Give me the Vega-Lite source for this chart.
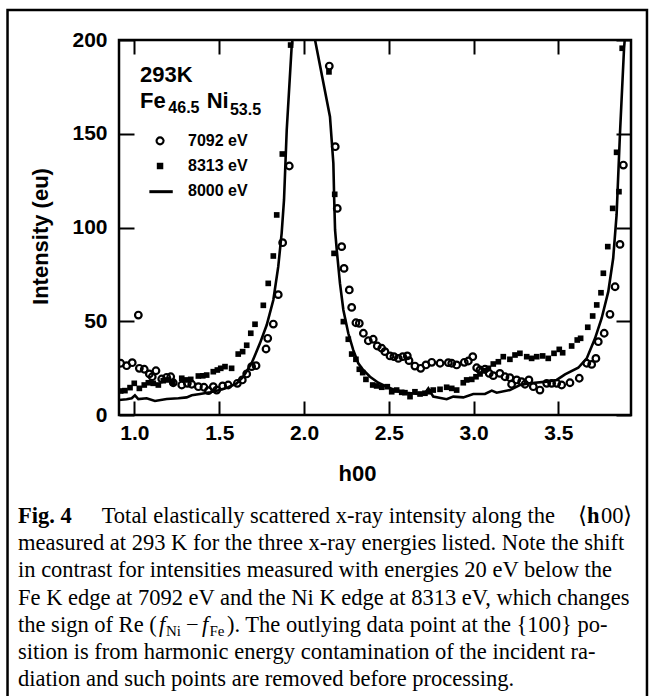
{
  "$schema": "https://vega.github.io/schema/vega-lite/v6.json",
  "width": 512,
  "height": 375,
  "autosize": {"type": "none"},
  "padding": {"left": 119, "top": 40, "right": 20, "bottom": 281},
  "background": "white",
  "config": {
    "view": {"stroke": "black", "strokeWidth": 2.5},
    "font": "Liberation Sans",
    "axis": {
      "grid": false, "domain": false, "tickColor": "black", "tickWidth": 2,
      "labelColor": "black", "labelFont": "Liberation Sans", "labelFontWeight": "bold", "labelFontSize": 21,
      "titleFont": "Liberation Sans", "titleFontWeight": "bold", "titleFontSize": 22, "titleColor": "black"
    }
  },
  "datasets": {
    "circles": [
      {"h":0.919,"I":27.6},{"h":0.954,"I":26.3},{"h":0.987,"I":27.9},{"h":1.023,"I":53.3},{"h":1.029,"I":24.9},{"h":1.058,"I":24.4},{"h":1.088,"I":21.9},{"h":1.105,"I":20.4},{"h":1.127,"I":23.6},{"h":1.161,"I":19.2},{"h":1.19,"I":20.1},{"h":1.214,"I":20.4},{"h":1.229,"I":17.2},{"h":1.279,"I":16},{"h":1.312,"I":16.9},{"h":1.338,"I":16.4},{"h":1.377,"I":15.1},{"h":1.41,"I":14.8},{"h":1.436,"I":13},{"h":1.465,"I":15.1},{"h":1.485,"I":13.3},{"h":1.52,"I":15.5},{"h":1.553,"I":16},{"h":1.607,"I":16.9},{"h":1.636,"I":18.7},{"h":1.662,"I":21.9},{"h":1.691,"I":25.8},{"h":1.717,"I":26.3},{"h":1.776,"I":35.2},{"h":1.786,"I":40.9},{"h":1.819,"I":48.5},{"h":1.848,"I":64.2},{"h":1.874,"I":91.9},{"h":1.913,"I":132.8},
      {"h":2.149,"I":186.1},{"h":2.184,"I":143.1},{"h":2.196,"I":110.2},{"h":2.222,"I":89.8},{"h":2.236,"I":78.2},{"h":2.267,"I":66.7},{"h":2.281,"I":57.4},{"h":2.306,"I":49.2},{"h":2.326,"I":48.9},{"h":2.35,"I":43.6},{"h":2.379,"I":39.6},{"h":2.408,"I":40.4},{"h":2.432,"I":36.8},{"h":2.458,"I":35.6},{"h":2.477,"I":33.8},{"h":2.507,"I":31.5},{"h":2.53,"I":31.1},{"h":2.556,"I":30.2},{"h":2.582,"I":31.1},{"h":2.609,"I":31.5},{"h":2.619,"I":29},{"h":2.654,"I":26.1},{"h":2.688,"I":24.9},{"h":2.719,"I":26.7},{"h":2.753,"I":28.1},{"h":2.802,"I":27.6},{"h":2.851,"I":27.9},{"h":2.871,"I":27.6},{"h":2.9,"I":26.7},{"h":2.945,"I":28.1},{"h":2.969,"I":28.8},{"h":2.995,"I":31.1},{"h":3.018,"I":25.2},{"h":3.037,"I":24},{"h":3.067,"I":24.4},{"h":3.092,"I":22.2},{"h":3.116,"I":21},{"h":3.155,"I":22.2},{"h":3.185,"I":20.4},{"h":3.214,"I":19.9},{"h":3.224,"I":16.4},{"h":3.254,"I":18.7},{"h":3.283,"I":17.8},{"h":3.303,"I":16.4},{"h":3.326,"I":18.7},{"h":3.352,"I":15.1},{"h":3.391,"I":13.3},{"h":3.431,"I":16.9},{"h":3.46,"I":16.9},{"h":3.49,"I":16.9},{"h":3.519,"I":16},{"h":3.568,"I":17.2},{"h":3.623,"I":19.6},{"h":3.667,"I":27.6},{"h":3.696,"I":27},{"h":3.721,"I":30.2},{"h":3.735,"I":39.1},{"h":3.77,"I":43.6},{"h":3.804,"I":53.7},{"h":3.834,"I":68.4},{"h":3.863,"I":91},{"h":3.883,"I":133.3}
    ],
    "squares": [
      {"h":0.919,"I":12.8},{"h":0.944,"I":13},{"h":0.974,"I":14.6},{"h":0.999,"I":16.9},{"h":1.029,"I":14.2},{"h":1.058,"I":16},{"h":1.082,"I":17.2},{"h":1.111,"I":16.9},{"h":1.141,"I":16},{"h":1.17,"I":18.3},{"h":1.2,"I":18.7},{"h":1.226,"I":17.2},{"h":1.279,"I":19.6},{"h":1.304,"I":18.7},{"h":1.332,"I":19},{"h":1.377,"I":20.8},{"h":1.403,"I":20.9},{"h":1.426,"I":21.3},{"h":1.465,"I":23.1},{"h":1.489,"I":24},{"h":1.509,"I":24.9},{"h":1.534,"I":25.8},{"h":1.573,"I":24.9},{"h":1.612,"I":32.5},{"h":1.638,"I":33.8},{"h":1.662,"I":37.2},{"h":1.686,"I":43.6},{"h":1.711,"I":48.4},{"h":1.76,"I":58.5},{"h":1.789,"I":70.2},{"h":1.819,"I":84.8},{"h":1.839,"I":106.7},{"h":1.872,"I":139.2},{"h":1.921,"I":197.3},
      {"h":2.147,"I":183},{"h":2.181,"I":117.7},{"h":2.177,"I":86.2},{"h":2.232,"I":49.8},{"h":2.261,"I":40.4},{"h":2.281,"I":32.5},{"h":2.306,"I":29.7},{"h":2.326,"I":24.4},{"h":2.346,"I":22.6},{"h":2.365,"I":19},{"h":2.405,"I":16},{"h":2.428,"I":15.5},{"h":2.458,"I":14.8},{"h":2.491,"I":15.1},{"h":2.517,"I":12.4},{"h":2.546,"I":13.3},{"h":2.576,"I":12.1},{"h":2.595,"I":11.9},{"h":2.625,"I":9.8},{"h":2.654,"I":12.4},{"h":2.684,"I":11.2},{"h":2.713,"I":11.6},{"h":2.737,"I":12.4},{"h":2.762,"I":13.3},{"h":2.802,"I":13.7},{"h":2.841,"I":14.8},{"h":2.871,"I":14.2},{"h":2.9,"I":13.3},{"h":2.939,"I":17.2},{"h":2.959,"I":18.7},{"h":2.989,"I":19},{"h":3.014,"I":20.4},{"h":3.038,"I":21.9},{"h":3.061,"I":23.6},{"h":3.087,"I":24.9},{"h":3.116,"I":27.2},{"h":3.146,"I":28.4},{"h":3.175,"I":31.1},{"h":3.214,"I":29.7},{"h":3.244,"I":32},{"h":3.273,"I":32.9},{"h":3.313,"I":31.1},{"h":3.342,"I":30.2},{"h":3.372,"I":31.1},{"h":3.407,"I":31.5},{"h":3.44,"I":30.2},{"h":3.474,"I":32.9},{"h":3.505,"I":35},{"h":3.525,"I":33.2},{"h":3.578,"I":36.8},{"h":3.611,"I":40},{"h":3.631,"I":40.9},{"h":3.673,"I":46.8},{"h":3.702,"I":52.8},{"h":3.726,"I":58.7},{"h":3.751,"I":65.2},{"h":3.765,"I":75.6},{"h":3.791,"I":89.8},{"h":3.82,"I":110.2},{"h":3.843,"I":140.1},{"h":3.857,"I":119.1},{"h":3.876,"I":195.6}
    ],
    "line8000": [
      {"seg":"a","h":0.905,"I":8},{"seg":"a","h":0.954,"I":8.4},{"seg":"a","h":0.984,"I":8.9},{"seg":"a","h":1.003,"I":10.5},{"seg":"a","h":1.023,"I":8.5},{"seg":"a","h":1.072,"I":8.9},{"seg":"a","h":1.121,"I":7.5},{"seg":"a","h":1.19,"I":8.5},{"seg":"a","h":1.259,"I":8.9},{"seg":"a","h":1.308,"I":9.4},{"seg":"a","h":1.338,"I":10.5},{"seg":"a","h":1.387,"I":11.2},{"seg":"a","h":1.446,"I":12.1},{"seg":"a","h":1.504,"I":13.3},{"seg":"a","h":1.553,"I":14.8},{"seg":"a","h":1.603,"I":16.9},{"seg":"a","h":1.642,"I":20.4},{"seg":"a","h":1.691,"I":27.6},{"seg":"a","h":1.74,"I":38.2},{"seg":"a","h":1.78,"I":48},{"seg":"a","h":1.819,"I":61.3},{"seg":"a","h":1.848,"I":79.1},{"seg":"a","h":1.868,"I":96.9},{"seg":"a","h":1.882,"I":114.7},{"seg":"a","h":1.898,"I":152},{"seg":"a","h":1.927,"I":196.4},{"seg":"a","h":1.932,"I":200},
      {"seg":"b","h":2.065,"I":200},{"seg":"b","h":2.153,"I":159.1},{"seg":"b","h":2.173,"I":134.2},{"seg":"b","h":2.178,"I":114.7},{"seg":"b","h":2.183,"I":98.7},{"seg":"b","h":2.193,"I":88},{"seg":"b","h":2.212,"I":70.2},{"seg":"b","h":2.232,"I":56},{"seg":"b","h":2.261,"I":43.6},{"seg":"b","h":2.29,"I":34.7},{"seg":"b","h":2.32,"I":27.6},{"seg":"b","h":2.349,"I":24},{"seg":"b","h":2.389,"I":20.4},{"seg":"b","h":2.438,"I":17.2},{"seg":"b","h":2.487,"I":15.1},{"seg":"b","h":2.546,"I":13},{"seg":"b","h":2.605,"I":11.9},{"seg":"b","h":2.674,"I":11.2},{"seg":"b","h":2.713,"I":11.6},{"seg":"b","h":2.733,"I":14.2},{"seg":"b","h":2.762,"I":9.8},{"seg":"b","h":2.841,"I":8.4},{"seg":"b","h":2.88,"I":9.8},{"seg":"b","h":2.939,"I":9.4},{"seg":"b","h":2.998,"I":11.2},{"seg":"b","h":3.067,"I":11.2},{"seg":"b","h":3.107,"I":13},{"seg":"b","h":3.136,"I":11.9},{"seg":"b","h":3.214,"I":13.3},{"seg":"b","h":3.273,"I":16},{"seg":"b","h":3.332,"I":16.9},{"seg":"b","h":3.431,"I":17.8},{"seg":"b","h":3.49,"I":18.7},{"seg":"b","h":3.539,"I":21.7},{"seg":"b","h":3.617,"I":25.2},{"seg":"b","h":3.667,"I":30.2},{"seg":"b","h":3.716,"I":40.9},{"seg":"b","h":3.755,"I":51.6},{"seg":"b","h":3.794,"I":65.8},{"seg":"b","h":3.823,"I":83.6},{"seg":"b","h":3.843,"I":106.7},{"seg":"b","h":3.863,"I":150.1},{"seg":"b","h":3.887,"I":195.6},{"seg":"b","h":3.891,"I":200}
    ],
    "one": [{}]
  },
  "layer": [
    {
      "data": {"name": "one"},
      "mark": {"type": "rect", "filled": false, "color": "black", "strokeWidth": 2.5, "clip": false},
      "encoding": {
        "x": {"datum": 0.2517, "type": "quantitative", "scale": {"domain": [0.909, 3.928], "nice": false, "zero": false}, "axis": null},
        "x2": {"datum": 4.0222},
        "y": {"datum": 216, "type": "quantitative", "scale": {"domain": [0, 200], "nice": false, "zero": false}, "axis": null},
        "y2": {"datum": -152}
      }
    },
    {
      "data": {"name": "line8000"},
      "mark": {"type": "line", "color": "black", "strokeWidth": 2.6, "clip": true},
      "encoding": {
        "x": {"field": "h", "type": "quantitative",
          "axis": {"orient": "bottom", "values": [1, 1.5, 2, 2.5, 3, 3.5], "format": ".1f", "offset": -14, "tickSize": 14, "labelPadding": 7,
            "title": "h00", "titleX": 238, "titleY": 79, "titleAlign": "center", "titleBaseline": "alphabetic"}},
        "y": {"field": "I", "type": "quantitative",
          "axis": {"orient": "left", "values": [0, 50, 100, 150, 200], "offset": -15, "tickSize": 15, "labelPadding": 12,
            "title": "Intensity (eu)", "titleX": -94, "titleY": 196, "titleAngle": -90, "titleAlign": "center", "titleBaseline": "middle"}},
        "detail": {"field": "seg"}
      }
    },
    {
      "data": {"name": "circles"},
      "mark": {"type": "point", "shape": "circle", "filled": false, "color": "black", "strokeWidth": 2.2, "size": 44, "opacity": 1, "clip": true},
      "encoding": {
        "x": {"field": "h", "type": "quantitative",
          "axis": {"orient": "top", "values": [1, 1.5, 2, 2.5, 3, 3.5], "offset": -14, "tickSize": 14, "labels": false, "title": null}},
        "y": {"field": "I", "type": "quantitative",
          "axis": {"orient": "right", "values": [0, 50, 100, 150, 200], "offset": -15, "tickSize": 15, "labels": false, "title": null}}
      }
    },
    {
      "data": {"name": "squares"},
      "mark": {"type": "point", "shape": "square", "filled": true, "color": "black", "size": 32, "opacity": 1, "clip": true},
      "encoding": {
        "x": {"field": "h", "type": "quantitative", "axis": null},
        "y": {"field": "I", "type": "quantitative", "axis": null}
      }
    },
    {
      "data": {"name": "one"},
      "mark": {"type": "text", "text": "293K", "font": "Liberation Sans", "fontWeight": "bold", "fontSize": 22, "align": "left", "baseline": "alphabetic", "color": "black"},
      "encoding": {"x": {"datum": 1.033, "type": "quantitative", "axis": null}, "y": {"datum": 177.8, "type": "quantitative", "axis": null}}
    },
    {
      "data": {"name": "one"},
      "mark": {"type": "text", "text": "Fe", "font": "Liberation Sans", "fontWeight": "bold", "fontSize": 22, "align": "left", "baseline": "alphabetic", "color": "black"},
      "encoding": {"x": {"datum": 1.033, "type": "quantitative", "axis": null}, "y": {"datum": 163.6, "type": "quantitative", "axis": null}}
    },
    {
      "data": {"name": "one"},
      "mark": {"type": "text", "text": "46.5", "font": "Liberation Sans", "fontWeight": "bold", "fontSize": 16, "align": "left", "baseline": "alphabetic", "color": "black"},
      "encoding": {"x": {"datum": 1.2, "type": "quantitative", "axis": null}, "y": {"datum": 160.9, "type": "quantitative", "axis": null}}
    },
    {
      "data": {"name": "one"},
      "mark": {"type": "text", "text": "Ni", "font": "Liberation Sans", "fontWeight": "bold", "fontSize": 22, "align": "left", "baseline": "alphabetic", "color": "black"},
      "encoding": {"x": {"datum": 1.426, "type": "quantitative", "axis": null}, "y": {"datum": 163.6, "type": "quantitative", "axis": null}}
    },
    {
      "data": {"name": "one"},
      "mark": {"type": "text", "text": "53.5", "font": "Liberation Sans", "fontWeight": "bold", "fontSize": 16, "align": "left", "baseline": "alphabetic", "color": "black"},
      "encoding": {"x": {"datum": 1.563, "type": "quantitative", "axis": null}, "y": {"datum": 160, "type": "quantitative", "axis": null}}
    },
    {
      "data": {"name": "one"},
      "mark": {"type": "point", "shape": "circle", "filled": false, "color": "black", "strokeWidth": 2.2, "size": 48, "opacity": 1},
      "encoding": {"x": {"datum": 1.151, "type": "quantitative", "axis": null}, "y": {"datum": 146.2, "type": "quantitative", "axis": null}}
    },
    {
      "data": {"name": "one"},
      "mark": {"type": "point", "shape": "square", "filled": true, "color": "black", "size": 42, "opacity": 1},
      "encoding": {"x": {"datum": 1.151, "type": "quantitative", "axis": null}, "y": {"datum": 132.8, "type": "quantitative", "axis": null}}
    },
    {
      "data": {"name": "one"},
      "mark": {"type": "rule", "color": "black", "strokeWidth": 3},
      "encoding": {"x": {"datum": 1.088, "type": "quantitative", "axis": null}, "x2": {"datum": 1.226}, "y": {"datum": 119.1, "type": "quantitative", "axis": null}}
    },
    {
      "data": {"name": "one"},
      "mark": {"type": "text", "text": "7092 eV", "font": "Liberation Sans", "fontWeight": "bold", "fontSize": 16, "align": "left", "baseline": "middle", "color": "black"},
      "encoding": {"x": {"datum": 1.316, "type": "quantitative", "axis": null}, "y": {"datum": 146.2, "type": "quantitative", "axis": null}}
    },
    {
      "data": {"name": "one"},
      "mark": {"type": "text", "text": "8313 eV", "font": "Liberation Sans", "fontWeight": "bold", "fontSize": 16, "align": "left", "baseline": "middle", "color": "black"},
      "encoding": {"x": {"datum": 1.316, "type": "quantitative", "axis": null}, "y": {"datum": 132.8, "type": "quantitative", "axis": null}}
    },
    {
      "data": {"name": "one"},
      "mark": {"type": "text", "text": "8000 eV", "font": "Liberation Sans", "fontWeight": "bold", "fontSize": 16, "align": "left", "baseline": "middle", "color": "black"},
      "encoding": {"x": {"datum": 1.316, "type": "quantitative", "axis": null}, "y": {"datum": 119.5, "type": "quantitative", "axis": null}}
    },
    {
      "data": {"name": "one"},
      "mark": {"type": "text", "text": "Fig. 4", "font": "Liberation Serif", "fontWeight": "bold", "fontSize": 22.5, "align": "left", "baseline": "alphabetic", "color": "black"},
      "encoding": {"x": {"datum": 0.3135, "type": "quantitative", "axis": null}, "y": {"datum": -57.6, "type": "quantitative", "axis": null}}
    },
    {
      "data": {"name": "one"},
      "mark": {"type": "text", "text": "Total elastically scattered x-ray intensity along the", "font": "Liberation Serif", "fontSize": 22.5, "align": "left", "baseline": "alphabetic", "color": "black"},
      "encoding": {"x": {"datum": 0.807, "type": "quantitative", "axis": null}, "y": {"datum": -57.6, "type": "quantitative", "axis": null}}
    },
    {
      "data": {"name": "one"},
      "mark": {"type": "text", "text": "⟨", "font": "Liberation Serif", "fontSize": 22.5, "align": "right", "baseline": "alphabetic", "color": "black"},
      "encoding": {"x": {"datum": 3.666, "type": "quantitative", "axis": null}, "y": {"datum": -57.6, "type": "quantitative", "axis": null}}
    },
    {
      "data": {"name": "one"},
      "mark": {"type": "text", "text": "h", "font": "Liberation Serif", "fontWeight": "bold", "fontSize": 22.5, "align": "left", "baseline": "alphabetic", "color": "black"},
      "encoding": {"x": {"datum": 3.668, "type": "quantitative", "axis": null}, "y": {"datum": -57.6, "type": "quantitative", "axis": null}}
    },
    {
      "data": {"name": "one"},
      "mark": {"type": "text", "text": "00⟩", "font": "Liberation Serif", "fontSize": 22.5, "align": "left", "baseline": "alphabetic", "color": "black"},
      "encoding": {"x": {"datum": 3.751, "type": "quantitative", "axis": null}, "y": {"datum": -57.6, "type": "quantitative", "axis": null}}
    },
    {
      "data": {"name": "one"},
      "mark": {"type": "text", "text": ["measured at 293 K for the three x-ray energies listed. Note the shift", "in contrast for intensities measured with energies 20 eV below the", "Fe K edge at 7092 eV and the Ni K edge at 8313 eV, which changes"], "font": "Liberation Serif", "fontSize": 22.5, "lineHeight": 27.2, "align": "left", "baseline": "alphabetic", "color": "black"},
      "encoding": {"x": {"datum": 0.3135, "type": "quantitative", "axis": null}, "y": {"datum": -72.1, "type": "quantitative", "axis": null}}
    },
    {
      "data": {"name": "one"},
      "mark": {"type": "text", "text": "the sign of Re (", "font": "Liberation Serif", "fontSize": 22.5, "align": "left", "baseline": "alphabetic", "color": "black"},
      "encoding": {"x": {"datum": 0.3135, "type": "quantitative", "axis": null}, "y": {"datum": -115.6, "type": "quantitative", "axis": null}}
    },
    {
      "data": {"name": "one"},
      "mark": {"type": "text", "text": "f", "font": "Liberation Serif", "fontStyle": "italic", "fontSize": 22.5, "align": "left", "baseline": "alphabetic", "color": "black"},
      "encoding": {"x": {"datum": 1.1448, "type": "quantitative", "axis": null}, "y": {"datum": -115.6, "type": "quantitative", "axis": null}}
    },
    {
      "data": {"name": "one"},
      "mark": {"type": "text", "text": "Ni", "font": "Liberation Serif", "fontSize": 15, "align": "left", "baseline": "alphabetic", "color": "black"},
      "encoding": {"x": {"datum": 1.1861, "type": "quantitative", "axis": null}, "y": {"datum": -118.1, "type": "quantitative", "axis": null}}
    },
    {
      "data": {"name": "one"},
      "mark": {"type": "text", "text": "−", "font": "Liberation Serif", "fontSize": 22.5, "align": "left", "baseline": "alphabetic", "color": "black"},
      "encoding": {"x": {"datum": 1.304, "type": "quantitative", "axis": null}, "y": {"datum": -115.6, "type": "quantitative", "axis": null}}
    },
    {
      "data": {"name": "one"},
      "mark": {"type": "text", "text": "f", "font": "Liberation Serif", "fontStyle": "italic", "fontSize": 22.5, "align": "left", "baseline": "alphabetic", "color": "black"},
      "encoding": {"x": {"datum": 1.3984, "type": "quantitative", "axis": null}, "y": {"datum": -115.6, "type": "quantitative", "axis": null}}
    },
    {
      "data": {"name": "one"},
      "mark": {"type": "text", "text": "Fe", "font": "Liberation Serif", "fontSize": 15, "align": "left", "baseline": "alphabetic", "color": "black"},
      "encoding": {"x": {"datum": 1.4426, "type": "quantitative", "axis": null}, "y": {"datum": -118.1, "type": "quantitative", "axis": null}}
    },
    {
      "data": {"name": "one"},
      "mark": {"type": "text", "text": "). The outlying data point at the {100} po-", "font": "Liberation Serif", "fontSize": 22.5, "align": "left", "baseline": "alphabetic", "color": "black"},
      "encoding": {"x": {"datum": 1.5458, "type": "quantitative", "axis": null}, "y": {"datum": -115.6, "type": "quantitative", "axis": null}}
    },
    {
      "data": {"name": "one"},
      "mark": {"type": "text", "text": ["sition is from harmonic energy contamination of the incident ra-", "diation and such points are removed before processing."], "font": "Liberation Serif", "fontSize": 22.5, "lineHeight": 27.2, "align": "left", "baseline": "alphabetic", "color": "black"},
      "encoding": {"x": {"datum": 0.3135, "type": "quantitative", "axis": null}, "y": {"datum": -130.1, "type": "quantitative", "axis": null}}
    }
  ],
  "resolve": {"axis": {"x": "independent", "y": "independent"}}
}
